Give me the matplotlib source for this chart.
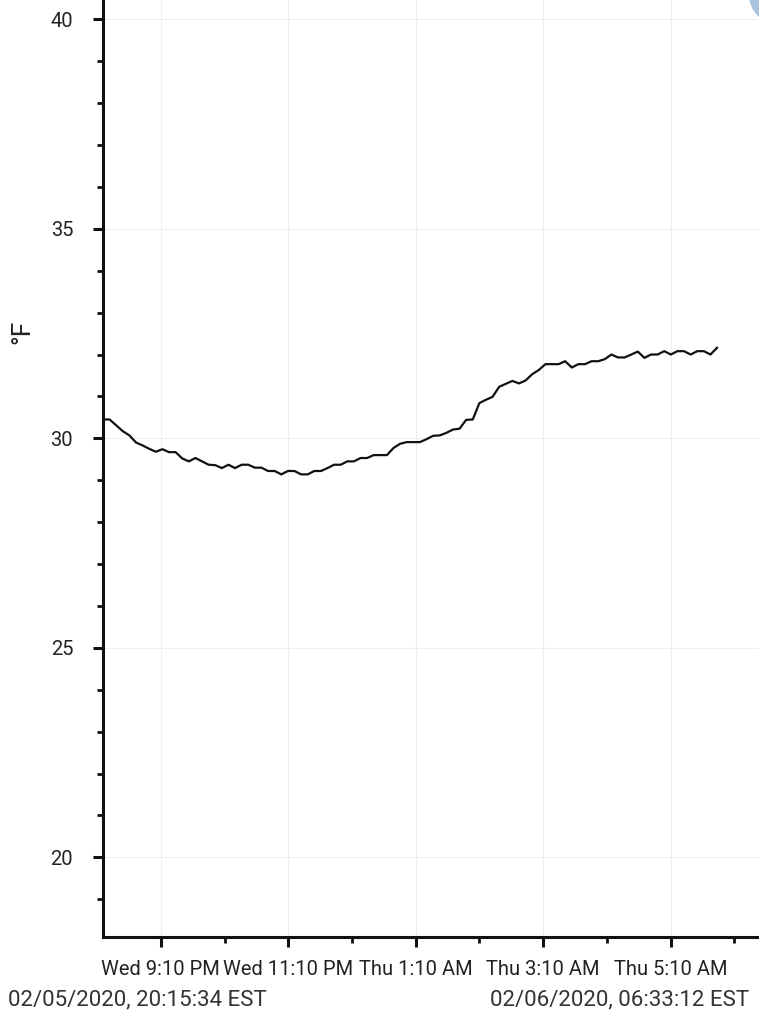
import matplotlib
matplotlib.use("Agg")
import matplotlib.pyplot as plt
import matplotlib.dates as mdates
from matplotlib.patches import Circle
from matplotlib.ticker import MultipleLocator, FuncFormatter
import pandas as pd

plt.rcParams["font.family"] = ["Roboto", "DejaVu Sans"]

# temperature readings in °F, one every ~6 min 13 s
temps_f = [
    30.45, 30.45, 30.31, 30.17, 30.07, 29.90, 29.83, 29.75, 29.68, 29.74,
    29.67, 29.67, 29.52, 29.45, 29.53, 29.45, 29.37, 29.36, 29.29, 29.37,
    29.29, 29.37, 29.37, 29.30, 29.30, 29.22, 29.22, 29.14, 29.22, 29.22,
    29.14, 29.14, 29.22, 29.22, 29.29, 29.37, 29.37, 29.45, 29.45, 29.53,
    29.53, 29.60, 29.60, 29.60, 29.77, 29.87, 29.91, 29.91, 29.91, 29.98,
    30.06, 30.07, 30.13, 30.21, 30.23, 30.44, 30.45, 30.84, 30.92, 30.99,
    31.23, 31.30, 31.37, 31.31, 31.38, 31.53, 31.63, 31.77, 31.77, 31.77,
    31.84, 31.69, 31.77, 31.77, 31.84, 31.84, 31.89, 32.00, 31.93, 31.93,
    32.00, 32.07, 31.92, 32.00, 32.00, 32.08, 32.00, 32.08, 32.08, 32.00,
    32.08, 32.08, 32.00, 32.16,
]
range_start = pd.Timestamp("2020-02-05 20:15:34")
range_end = pd.Timestamp("2020-02-06 06:33:12")
sample_seconds = 373
start_label = "02/05/2020, 20:15:34 EST"
end_label = "02/06/2020, 06:33:12 EST"

times = pd.date_range(range_start, periods=len(temps_f), freq=f"{sample_seconds}s")
major_ticks = pd.date_range("2020-02-05 21:10", periods=5, freq="2h")
minor_ticks = pd.date_range("2020-02-05 22:10", periods=5, freq="2h")

W, H = 759, 1024
fig = plt.figure(figsize=(W / 100, H / 100), dpi=100)
ax = fig.add_axes([103 / W, 87 / H, 656 / W, 1 - 87 / H])

ax.plot(times, temps_f, color="#111111", linewidth=1.6)

ax.set_xlim(range_start, range_end)
ax.set_ylim(18.1, 40.46)


def _xfmt(x, pos):
    d = mdates.num2date(x)
    h = d.hour % 12 or 12
    return f"{d.strftime('%a')} {h}:{d.minute:02d} {'AM' if d.hour < 12 else 'PM'}"


ax.set_xticks(mdates.date2num(major_ticks))
ax.set_xticks(mdates.date2num(minor_ticks), minor=True)
ax.xaxis.set_major_formatter(FuncFormatter(_xfmt))

ax.yaxis.set_major_locator(MultipleLocator(5))
ax.yaxis.set_minor_locator(MultipleLocator(1))

for side in ("top", "right"):
    ax.spines[side].set_visible(False)
for side in ("left", "bottom"):
    ax.spines[side].set_linewidth(2.2)
    ax.spines[side].set_color("#111111")

ax.tick_params(which="major", length=7.5, width=2.2, color="#111111",
               labelsize=14.5, labelcolor="#222222")
ax.tick_params(which="minor", length=4.3, width=2.0, color="#111111")
ax.tick_params(axis="x", which="major", pad=9)
ax.tick_params(axis="y", which="major", pad=14)

ax.grid(True, which="major", color="#eeeeee", linewidth=0.8)
ax.set_axisbelow(True)

fig.text(22 / W, 1 - 332 / H, "°F", rotation=90, fontsize=19,
         ha="center", va="center", color="#222222")
fig.text(8 / W, 1 - 1000 / H, start_label, fontsize=16,
         ha="left", va="center", color="#333333")
fig.text(749 / W, 1 - 1000 / H, end_label, fontsize=16,
         ha="right", va="center", color="#333333")

# floating button edge peeking in at the top-right corner
fig.patches.append(Circle((778, 1029), 29, transform=None,
                          facecolor="#a9c2de", edgecolor="none"))

fig.savefig("out.png", dpi=100)
